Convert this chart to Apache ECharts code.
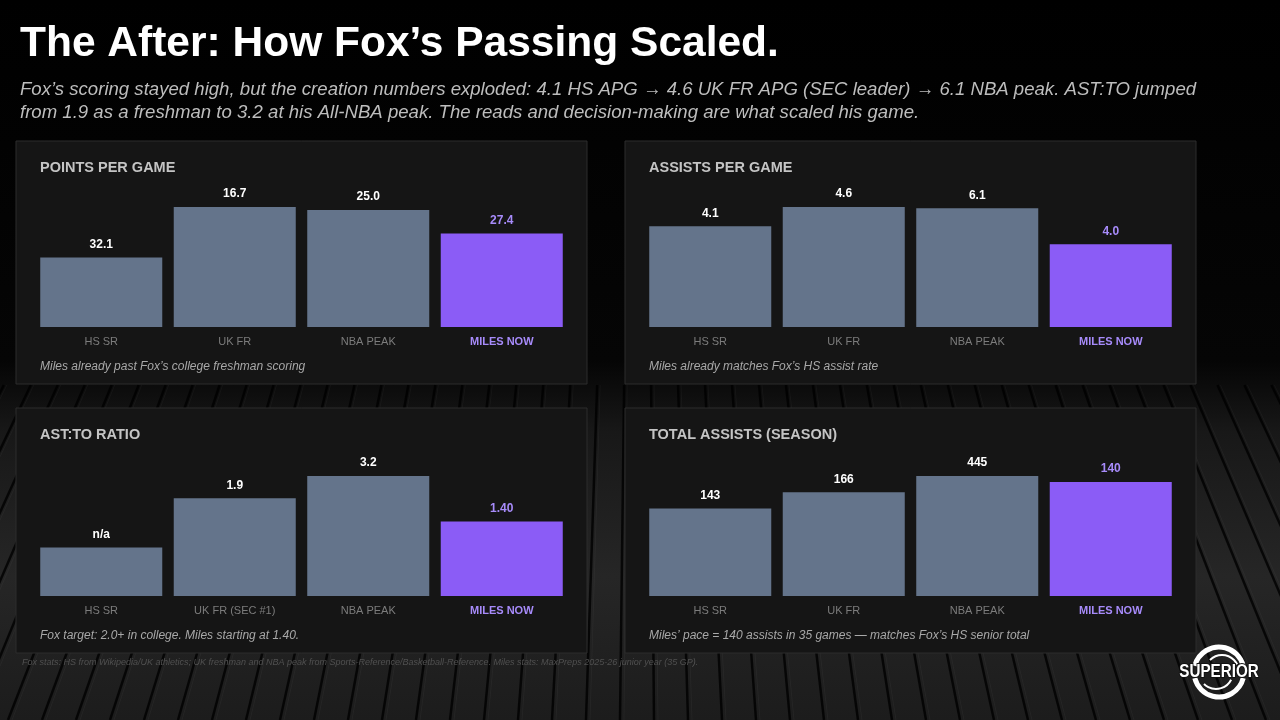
<!DOCTYPE html>
<html>
<head>
<meta charset="utf-8">
<script src="https://cdn.jsdelivr.net/npm/echarts@6/dist/echarts.min.js"></script>
<style>
html,body{margin:0;padding:0;background:#000;}
#c{width:1280px;height:720px;}
</style>
</head>
<body>
<div id="c"></div>
<script>
// ---- data ----
const categories = ['HS SR', 'UK FR', 'NBA PEAK', 'MILES NOW'];
const atoCategories = ['HS SR', 'UK FR (SEC #1)', 'NBA PEAK', 'MILES NOW'];

const ppgLabels = ['32.1', '16.7', '25.0', '27.4'];
const ppgBarLevels = [58, 100, 97.5, 78];

const apgLabels = ['4.1', '4.6', '6.1', '4.0'];
const apgBarLevels = [84, 100, 99, 69];

const atoLabels = ['n/a', '1.9', '3.2', '1.40'];
const atoBarLevels = [40.5, 81.5, 100, 62];

const totalLabels = ['143', '166', '445', '140'];
const totalBarLevels = [73, 86.5, 100, 95];

const panelTitles = ['POINTS PER GAME', 'ASSISTS PER GAME', 'AST:TO RATIO', 'TOTAL ASSISTS (SEASON)'];
const panelNotes = [
  'Miles already past Fox\u2019s college freshman scoring',
  'Miles already matches Fox\u2019s HS assist rate',
  'Fox target: 2.0+ in college. Miles starting at 1.40.',
  'Miles\u2019 pace = 140 assists in 35 games \u2014 matches Fox\u2019s HS senior total'
];

const titleText = 'The After: How Fox\u2019s Passing Scaled.';
const subtitleText = 'Fox\u2019s scoring stayed high, but the creation numbers exploded: 4.1 HS APG \u2192 4.6 UK FR APG (SEC leader) \u2192 6.1 NBA peak. AST:TO jumped\nfrom 1.9 as a freshman to 3.2 at his All-NBA peak. The reads and decision-making are what scaled his game.';
const footerText = 'Fox stats: HS from Wikipedia/UK athletics; UK freshman and NBA peak from Sports-Reference/Basketball-Reference. Miles stats: MaxPreps 2025-26 junior year (35 GP).';

// ---- layout ----
const FONT = '"Liberation Sans", Arial, sans-serif';
const SLATE = '#64748b';
const PURPLE = '#8b5cf6';
const PURPLE_TXT = '#a78bfa';

const panels = [
  {x: 16, y: 141, w: 571, h: 243, cats: categories, labels: ppgLabels, levels: ppgBarLevels},
  {x: 625, y: 141, w: 571, h: 243, cats: categories, labels: apgLabels, levels: apgBarLevels},
  {x: 16, y: 408, w: 571, h: 245, cats: atoCategories, labels: atoLabels, levels: atoBarLevels},
  {x: 625, y: 408, w: 571, h: 245, cats: categories, labels: totalLabels, levels: totalBarLevels}
];

const grids = [], xAxes = [], yAxes = [], series = [], graphics = [];

// floor planks (decoration)
const vpX = 640, vpY = -900, y0 = 385, y1 = 720;
for (let bx = -400; bx <= 1700; bx += 34) {
  const t0 = (y0 - vpY) / (y1 - vpY);
  const sx = vpX + (bx - vpX) * t0;
  graphics.push({
    type: 'line', z: -3, silent: true,
    shape: {x1: sx, y1: y0, x2: bx, y2: y1},
    style: {stroke: 'rgba(0,0,0,0.8)', lineWidth: 2.5}
  });
  graphics.push({
    type: 'line', z: -3, silent: true,
    shape: {x1: sx + 3, y1: y0, x2: bx + 4, y2: y1},
    style: {stroke: 'rgba(255,255,255,0.035)', lineWidth: 1}
  });
}

panels.forEach((p, i) => {
  graphics.push({
    type: 'rect', z: -1, silent: true,
    shape: {x: p.x, y: p.y, width: p.w, height: p.h},
    style: {fill: '#151515', stroke: '#2c2c2c', lineWidth: 1}
  });
  graphics.push({
    type: 'text', z: 5, left: p.x + 24, top: p.y + 19,
    style: {text: panelTitles[i], fill: '#c4c4c4', font: 'bold 14.5px ' + FONT}
  });
  graphics.push({
    type: 'text', z: 5, left: p.x + 24, top: p.y + (i < 2 ? 220 : 222),
    style: {text: panelNotes[i], fill: '#a8a8a8', font: 'italic 12px ' + FONT}
  });

  const baseY = p.y + (i < 2 ? 186 : 188);
  grids.push({left: p.x + 18.5, width: 534, top: baseY - 120, height: 120});
  xAxes.push({
    type: 'category', gridIndex: i, data: p.cats,
    axisLine: {show: false}, axisTick: {show: false},
    axisLabel: {
      margin: 9, fontFamily: FONT, fontSize: 11, color: '#7c7c7c',
      formatter: (v, idx) => idx === 3 ? '{m|' + v + '}' : v,
      rich: {m: {color: PURPLE_TXT, fontWeight: 'bold', fontSize: 11, fontFamily: FONT}}
    }
  });
  yAxes.push({type: 'value', gridIndex: i, min: 0, max: 100, show: false, splitLine: {show: false}});
  series.push({
    type: 'bar', xAxisIndex: i, yAxisIndex: i, barCategoryGap: '8.6%',
    data: p.levels.map((v, k) => ({
      value: v,
      itemStyle: {color: k === 3 ? PURPLE : SLATE},
      label: {color: k === 3 ? PURPLE_TXT : '#ffffff'}
    })),
    label: {
      show: true, position: 'top', distance: 7,
      fontFamily: FONT, fontSize: 12, fontWeight: 'bold',
      formatter: (prm) => p.labels[prm.dataIndex]
    },
    silent: true, animation: false
  });
});

// title & subtitle
graphics.push({
  type: 'text', left: 20, top: 23,
  style: {text: titleText, fill: '#ffffff', font: 'bold 42.5px ' + FONT}
});
graphics.push({
  type: 'text', left: 20, top: 78,
  style: {text: subtitleText, fill: '#bdbdbd', font: 'italic 18.6px ' + FONT, lineHeight: 23}
});
// footer
graphics.push({
  type: 'text', left: 22, top: 658,
  style: {text: footerText, fill: '#505050', font: 'italic 9px ' + FONT}
});

// logo
const lcx = 1219, lcy = 672;
graphics.push({type: 'arc', z: 6, shape: {cx: lcx, cy: lcy, r: 25, startAngle: Math.PI * 1.08, endAngle: Math.PI * 1.92, clockwise: true},
  style: {stroke: '#fff', lineWidth: 5, fill: null}});
graphics.push({type: 'arc', z: 6, shape: {cx: lcx, cy: lcy, r: 25, startAngle: Math.PI * 0.08, endAngle: Math.PI * 0.92, clockwise: true},
  style: {stroke: '#fff', lineWidth: 5, fill: null}});
graphics.push({type: 'arc', z: 6, shape: {cx: lcx + 3, cy: lcy, r: 17, startAngle: Math.PI * 1.25, endAngle: Math.PI * 1.85, clockwise: true},
  style: {stroke: '#fff', lineWidth: 2, fill: null}});
graphics.push({type: 'arc', z: 6, shape: {cx: lcx - 3, cy: lcy, r: 17, startAngle: Math.PI * 0.15, endAngle: Math.PI * 0.75, clockwise: true},
  style: {stroke: '#fff', lineWidth: 2, fill: null}});
graphics.push({
  type: 'text', z: 7, x: lcx, y: lcy, scaleX: 0.8, originX: 0, originY: 0,
  style: {text: 'SUPERIOR', fill: '#fff', font: 'bold 19px ' + FONT,
    align: 'center', verticalAlign: 'middle', stroke: '#111', lineWidth: 2}
});

const chart = echarts.init(document.getElementById('c'));
chart.setOption({
  animation: false,
  backgroundColor: {
    type: 'linear', x: 0, y: 0, x2: 0, y2: 1,
    colorStops: [
      {offset: 0, color: '#000000'},
      {offset: 0.5, color: '#050505'},
      {offset: 0.6, color: '#181818'},
      {offset: 0.8, color: '#262626'},
      {offset: 1, color: '#1c1c1c'}
    ]
  },
  grid: grids, xAxis: xAxes, yAxis: yAxes, series: series,
  graphic: {elements: graphics}
});
</script>
</body>
</html>
